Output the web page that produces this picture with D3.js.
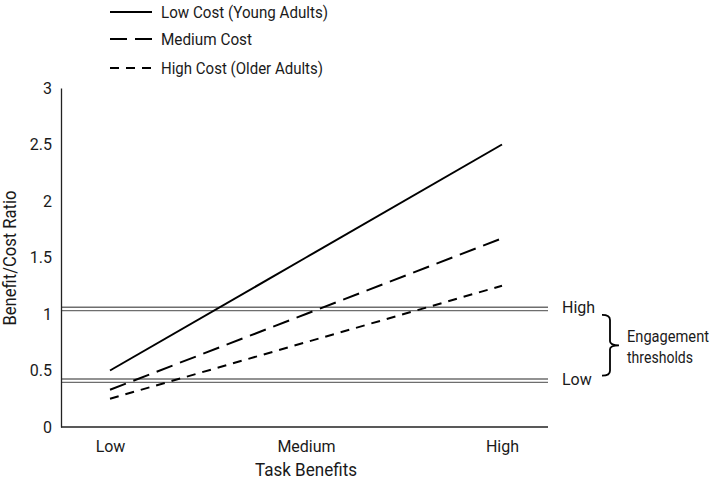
<!DOCTYPE html>
<html>
<head>
<meta charset="utf-8">
<script src="https://cdn.jsdelivr.net/npm/d3@7"></script>
<style>
  body { margin: 0; background: #fff; }
  svg text { font-family: Roboto, "Liberation Sans", sans-serif; fill: #1a1a1a; }
</style>
</head>
<body>
<svg id="chart" width="716" height="481"></svg>
<script>
// ---- data ----
const categories = ["Low", "Medium", "High"];
const seriesNames = ["Low Cost (Young Adults)", "Medium Cost", "High Cost (Older Adults)"];
const lowCost = [0.5, 1.5, 2.5];
const mediumCost = [0.33, 1.0, 1.67];
const highCost = [0.25, 0.75, 1.25];
const yTicks = [0, 0.5, 1, 1.5, 2, 2.5, 3];
const thresholdLabels = ["High", "Low"];
const thresholdValues = [1.045, 0.41];

// ---- layout ----
const svg = d3.select("#chart");
const plotLeft = 61, plotRight = 548, plotTop = 88, plotBottom = 427;
const legendWidths = [167, 91, 162];

const x = d3.scalePoint().domain(categories).range([110, 502]);
const y = d3.scaleLinear().domain([0, 3]).range([plotBottom, plotTop]);

const dashes = ["none", "17,8", "9,7"];
const seriesData = [lowCost, mediumCost, highCost];

// threshold double lines
thresholdValues.forEach(v => {
  [-1.7, 1.7].forEach(off => {
    svg.append("line")
      .attr("x1", plotLeft).attr("x2", plotRight)
      .attr("y1", y(v) + off).attr("y2", y(v) + off)
      .attr("stroke", "#6e6e6e").attr("stroke-width", 1.4);
  });
});

// y axis
const yAxis = d3.axisLeft(y).tickValues(yTicks).tickSize(0).tickPadding(9)
  .tickFormat(d => d3.format("")(d));
const gy = svg.append("g").attr("transform", `translate(${plotLeft},0)`).call(yAxis);
gy.select(".domain").attr("stroke", "#222").attr("stroke-width", 1.3);
gy.selectAll("text").style("font-size", "16px").attr("fill", "#1a1a1a");

// x axis
const xAxis = d3.axisBottom(x).tickSize(0).tickPadding(14);
const gx = svg.append("g").attr("transform", `translate(0,${plotBottom})`).call(xAxis);
gx.select(".domain").remove();
gx.selectAll("text").style("font-size", "16px").attr("fill", "#1a1a1a");
svg.append("line")
  .attr("x1", plotLeft).attr("x2", plotRight)
  .attr("y1", plotBottom).attr("y2", plotBottom)
  .attr("stroke", "#222").attr("stroke-width", 1.3);

// axis titles
svg.append("text")
  .attr("x", 306).attr("y", 476)
  .attr("text-anchor", "middle")
  .attr("textLength", 102).attr("lengthAdjust", "spacingAndGlyphs")
  .style("font-size", "18px")
  .text("Task Benefits");
svg.append("text")
  .attr("transform", "translate(16,258) rotate(-90)")
  .attr("text-anchor", "middle")
  .attr("textLength", 135).attr("lengthAdjust", "spacingAndGlyphs")
  .style("font-size", "18px")
  .text("Benefit/Cost Ratio");

// series lines
const line = d3.line().x((d, i) => x(categories[i])).y(d => y(d));
seriesData.forEach((s, i) => {
  svg.append("path")
    .attr("d", line(s))
    .attr("fill", "none")
    .attr("stroke", "#000")
    .attr("stroke-width", 2)
    .attr("stroke-dasharray", dashes[i]);
});

// legend
const legendY = [12, 39, 68];
seriesNames.forEach((name, i) => {
  svg.append("line")
    .attr("x1", 110).attr("x2", 152)
    .attr("y1", legendY[i]).attr("y2", legendY[i])
    .attr("stroke", "#000").attr("stroke-width", 2)
    .attr("stroke-dasharray", dashes[i]);
  svg.append("text")
    .attr("x", 161).attr("y", legendY[i])
    .attr("dominant-baseline", "central")
    .attr("textLength", legendWidths[i]).attr("lengthAdjust", "spacingAndGlyphs")
    .style("font-size", "16px")
    .text(name);
});

// threshold labels
thresholdValues.forEach((v, i) => {
  svg.append("text")
    .attr("x", 562).attr("y", y(v) - 1)
    .attr("dominant-baseline", "central")
    .style("font-size", "16px")
    .text(thresholdLabels[i]);
});

// bracket
const bt = y(thresholdValues[0]) + 6, bb = y(thresholdValues[1]) - 5, bm = (bt + bb) / 2;
const bx = 610;
svg.append("path")
  .attr("d", `M602,${bt} Q${bx},${bt} ${bx},${bt + 5} L${bx},${bm - 4} Q${bx},${bm} ${bx + 9},${bm} Q${bx},${bm} ${bx},${bm + 4} L${bx},${bb - 5} Q${bx},${bb} 602,${bb}`)
  .attr("fill", "none").attr("stroke", "#000").attr("stroke-width", 1.8);

svg.append("text").attr("x", 627).attr("y", 342)
  .attr("textLength", 82).attr("lengthAdjust", "spacingAndGlyphs")
  .style("font-size", "16px").text("Engagement");
svg.append("text").attr("x", 627).attr("y", 363)
  .attr("textLength", 66).attr("lengthAdjust", "spacingAndGlyphs")
  .style("font-size", "16px").text("thresholds");
</script>
</body>
</html>
